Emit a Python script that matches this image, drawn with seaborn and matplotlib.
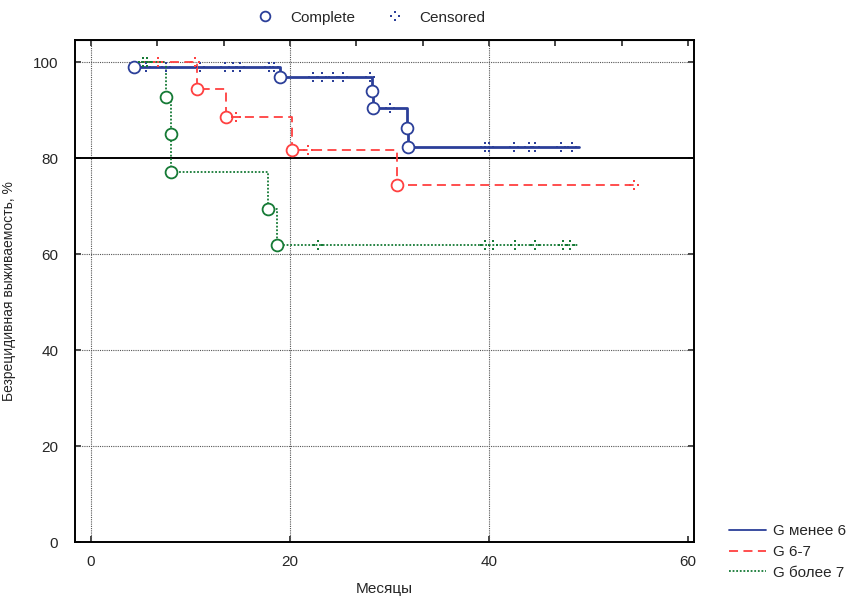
import numpy as np
import matplotlib
matplotlib.use("Agg")
import matplotlib.pyplot as plt
import seaborn as sns
from matplotlib.path import Path
from matplotlib.lines import Line2D

# Кривые Каплана-Мейера: время события (мес) и выживаемость (%) после события
blue_t = [4.3, 19.0, 28.2, 28.3, 31.8, 31.9, 49.0]
blue_s = [98.9, 96.9, 94.0, 90.4, 86.2, 82.3, 82.3]
blue_ev_t = [4.3, 19.0, 28.2, 28.3, 31.8, 31.9]
blue_ev_s = [98.9, 96.9, 94.0, 90.4, 86.2, 82.3]
blue_cens_t = [5.5, 7.5, 11.0, 13.5, 14.3, 15.0, 17.9, 18.4,
               22.3, 23.2, 24.3, 25.3, 28.0, 30.1, 39.6, 40.0, 42.5, 44.0, 44.6, 47.2, 48.3]
blue_cens_s = [98.9] * 8 + [96.9] * 5 + [90.4] + [82.3] * 7

red_t = [5.0, 10.7, 13.6, 20.2, 30.8, 54.6]
red_s = [100.0, 94.4, 88.5, 81.7, 74.4, 74.4]
red_ev_t = [10.7, 13.6, 20.2, 30.8]
red_ev_s = [94.4, 88.5, 81.7, 74.4]
red_cens_t = [6.7, 10.5, 14.6, 21.8, 54.6]
red_cens_s = [100.0, 100.0, 88.5, 81.7, 74.4]

green_t = [5.0, 7.5, 8.0, 8.05, 17.8, 18.7, 49.0]
green_s = [100.0, 92.7, 85.0, 77.1, 69.4, 61.9, 61.9]
green_ev_t = [7.5, 8.0, 8.05, 17.8, 18.7]
green_ev_s = [92.7, 85.0, 77.1, 69.4, 61.9]
green_cens_t = [5.2, 5.6, 22.8, 39.6, 40.4, 42.6, 44.6, 47.4, 48.1]
green_cens_s = [100.0, 100.0] + [61.9] * 7

labels = ["G менее 6", "G 6-7", "G более 7"]
colors = ["#2b3f99", "#ff4040", "#157a35"]
styles = ["-", (0, (5, 3)), (0, (1, 1))]
widths = [2.0, 1.3, 1.3]

# маркер цензурирования: четыре точки ромбом
sq = 0.2
verts, codes = [], []
for cx, cy in [(0, 1), (0, -1), (-1, 0), (1, 0)]:
    verts += [(cx - sq, cy - sq), (cx + sq, cy - sq), (cx + sq, cy + sq), (cx - sq, cy + sq), (0, 0)]
    codes += [Path.MOVETO, Path.LINETO, Path.LINETO, Path.LINETO, Path.CLOSEPOLY]
cens_marker = Path(verts, codes)

sns.set_style("ticks")
plt.rcParams["font.family"] = ["Liberation Sans Narrow", "Liberation Sans", "DejaVu Sans"]

fig = plt.figure(figsize=(8.55, 6.04), dpi=100)
ax = fig.add_axes([0.0877, 0.1026, 0.7240, 0.8312])

curves = [(blue_t, blue_s, blue_ev_t, blue_ev_s, blue_cens_t, blue_cens_s),
          (red_t, red_s, red_ev_t, red_ev_s, red_cens_t, red_cens_s),
          (green_t, green_s, green_ev_t, green_ev_s, green_cens_t, green_cens_s)]

for (t, s, et, es, ct, cs), lab, c, ls, lw in zip(curves, labels, colors, styles, widths):
    sns.lineplot(x=t, y=s, ax=ax, color=c, linestyle=ls, linewidth=lw,
                 drawstyle="steps-post", estimator=None, sort=False, zorder=3)
    ax.plot(et, es, linestyle="none", marker="o", markersize=8.5, markerfacecolor="white",
            markeredgecolor=c, markeredgewidth=1.3, zorder=4)
    ax.plot(ct, cs, linestyle="none", marker=cens_marker, markersize=7, color=c,
            markeredgewidth=0, zorder=4)

ax.axhline(80, color="black", linewidth=1.4, zorder=2)
for yv in [20, 40, 60, 100]:
    ax.axhline(yv, color="#555555", linewidth=0.8, linestyle=(0, (1, 1)), zorder=1)
for xv in [0, 20, 40]:
    ax.axvline(xv, color="#555555", linewidth=0.8, linestyle=(0, (1, 1)), zorder=1)

ax.set_xlim(-1.6, 60.6)
ax.set_ylim(0, 104.6)
ax.set_xticks([0, 20, 40, 60])
ax.set_yticks([0, 20, 40, 60, 80, 100])
ax.tick_params(axis="both", direction="in", length=4, width=1.2, labelsize=11, right=True)
ax.tick_params(axis="x", pad=9)
ax.tick_params(axis="y", pad=12)
for sp in ax.spines.values():
    sp.set_color("black")
    sp.set_linewidth(1.4)
    sp.set_visible(True)

top = ax.secondary_xaxis("top")
top.set_xticks(np.arange(0, 61, 20 / 3))
top.tick_params(direction="in", length=4, width=1.2, labeltop=False)

ax.set_xlabel("Месяцы", fontsize=11, labelpad=10)
ax.set_ylabel("Безрецидивная выживаемость, %", fontsize=10, labelpad=12)

# легенды
top_handles = [
    Line2D([], [], linestyle="none", marker="o", markersize=7, markerfacecolor="white",
           markeredgecolor=colors[0], markeredgewidth=1.3),
    Line2D([], [], linestyle="none", marker=cens_marker, markersize=7, color=colors[0],
           markeredgewidth=0),
]
fig.legend(top_handles, ["Complete", "Censored"], loc="upper center",
           bbox_to_anchor=(0.43, 1.005), ncol=2, frameon=False, handletextpad=0.6,
           columnspacing=1.6, prop={"family": ["Liberation Sans", "DejaVu Sans"], "size": 11})

grp_handles = [Line2D([], [], color=c, linestyle=ls, linewidth=1.3) for c, ls in zip(colors, styles)]
fig.legend(grp_handles, labels, loc="lower left", bbox_to_anchor=(0.849, 0.035),
           frameon=False, handlelength=2.4, handletextpad=0.5, labelspacing=0.45,
           borderaxespad=0.0, borderpad=0.2,
           prop={"family": ["Liberation Sans", "DejaVu Sans"], "size": 11})

fig.savefig("out.png", dpi=100)
